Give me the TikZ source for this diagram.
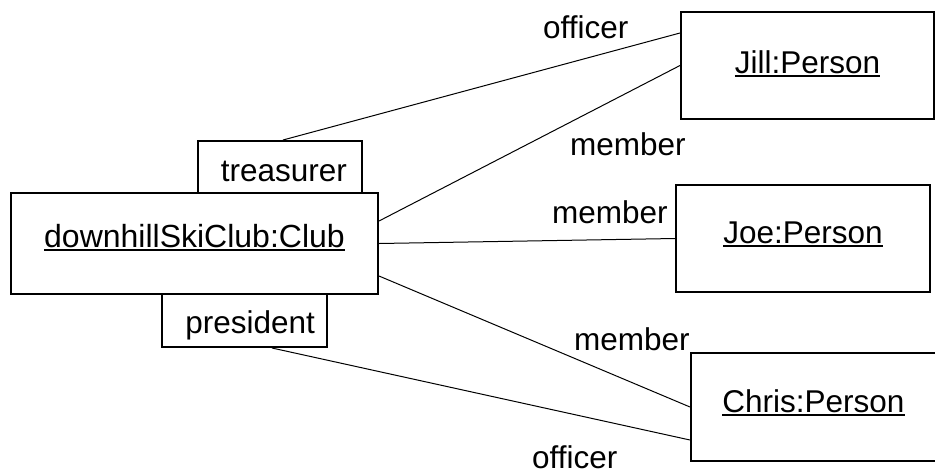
\documentclass[tikz,border=0pt]{standalone}
\usepackage{fontspec}
\setmainfont{Liberation Sans}
\newcommand{\ulx}[1]{\setbox0\hbox{#1}\rlap{\rule[-4pt]{\wd0}{2pt}}\box0}
\begin{document}
\begin{tikzpicture}[x=1pt,y=-1pt,
  txt/.style={font=\fontsize{31.5}{37}\selectfont},
  obj/.style={txt,draw,line width=2pt,inner sep=0pt,text height=22pt},
  role/.style={txt,draw,line width=2pt,inner ysep=0pt,align=right,text depth=0pt},
  lab/.style={txt,inner sep=0pt,anchor=base west},
  conn/.style={line width=1pt}]
\useasboundingbox (0,0) rectangle (935,475);
% object boxes
\node[obj,font=\fontsize{32}{37}\selectfont,minimum width=367pt,minimum height=101pt,text depth=15pt] (club) at (194.5,243.5) {\ulx{downhillSkiClub:Club}};
\node[obj,minimum width=253pt,minimum height=107pt,text depth=7pt] (jill) at (807.5,65.5) {\ulx{Jill:Person}};
\node[obj,minimum width=254pt,minimum height=107pt,text depth=13pt] (joe) at (803,238.5) {\ulx{Joe:Person}};
\node[obj,minimum width=245pt,minimum height=108pt,text depth=12pt] (chris) at (813.5,407) {\ulx{Chris:Person}};
% role boxes
\node[role,minimum height=52pt,text height=28pt,inner xsep=15pt,text width=134pt] (tr) at (280,167) {treasurer};
\node[role,minimum height=53pt,text height=25pt,inner xsep=12pt,text width=141pt] (pres) at (244.5,320.5) {president};
% connectors
\draw[conn] ([xshift=3pt]tr.north) -- ([yshift=32.5pt]jill.west);
\draw[conn] ([yshift=22.5pt]club.east) -- (jill.west);
\draw[conn] (club.east) -- (joe.west);
\draw[conn] ([yshift=-32.5pt]club.east) -- (chris.west);
\draw[conn] ([xshift=27.5pt]pres.south) -- ([yshift=-33pt]chris.west);
% labels
\node[lab] (l1) at (543,38) {officer};
\node[lab] (l2) at (570,155) {member};
\node[lab] (l3) at (552,223) {member};
\node[lab] (l4) at (574,350) {member};
\node[lab] (l5) at (532,468) {officer};
\end{tikzpicture}
\end{document}
